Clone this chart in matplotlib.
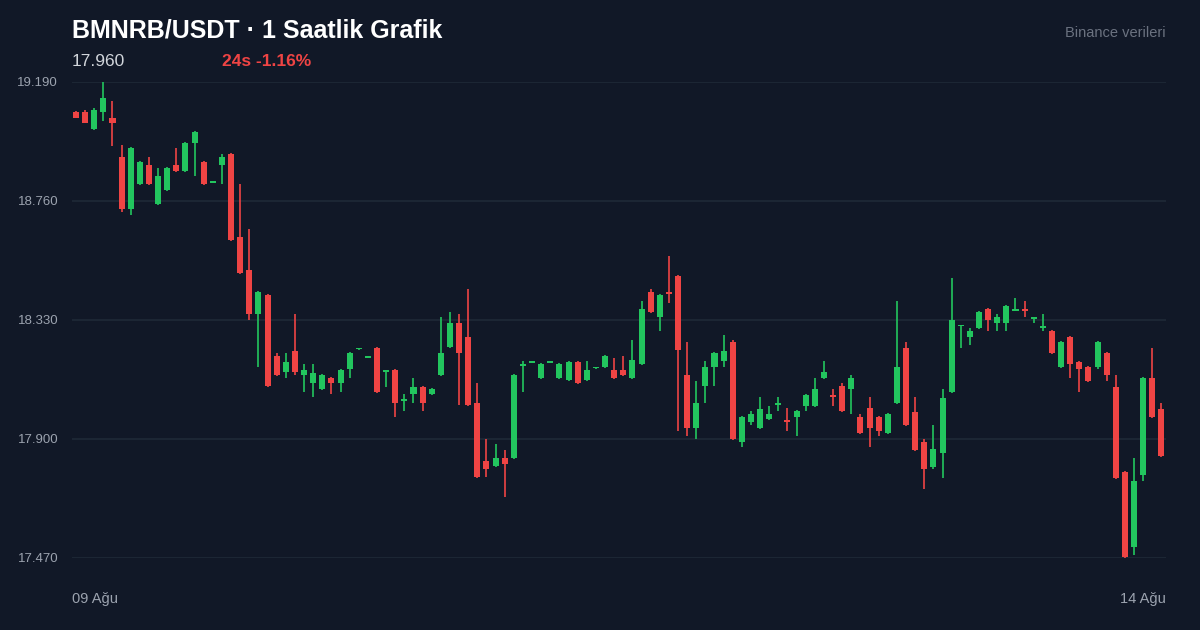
import matplotlib
matplotlib.use("Agg")
import matplotlib.pyplot as plt

plt.rcParams["font.family"] = ["Liberation Sans", "DejaVu Sans"]

# OHLC values (1h candles)
opens = [19.082, 19.082, 19.020, 19.082, 19.060, 18.919, 18.731, 18.821, 18.890, 18.749,
         18.800, 18.890, 18.868, 18.970, 18.901, 18.826, 18.890, 18.930, 18.630, 18.511,
         18.352, 18.420, 18.200, 18.142, 18.218, 18.131, 18.102, 18.081, 18.121, 18.102,
         18.153, 18.224, 18.194, 18.229, 18.142, 18.149, 18.037, 18.063, 18.088, 18.063,
         18.131, 18.233, 18.319, 18.269, 18.030, 17.821, 17.803, 17.832, 17.832, 18.164,
         18.176, 18.121, 18.176, 18.121, 18.113, 18.178, 18.113, 18.155, 18.160, 18.149,
         18.149, 18.121, 18.171, 18.431, 18.341, 18.431, 18.489, 18.131, 17.940, 18.092,
         18.160, 18.182, 18.251, 17.889, 17.962, 17.940, 17.972, 18.023, 17.969, 17.980,
         18.019, 18.019, 18.121, 18.059, 18.092, 18.081, 17.980, 18.012, 17.980, 17.922,
         18.030, 18.229, 17.998, 17.889, 17.799, 17.850, 18.070, 18.307, 18.269, 18.301,
         18.370, 18.319, 18.319, 18.364, 18.370, 18.335, 18.301, 18.290, 18.160, 18.269,
         18.178, 18.160, 18.160, 18.211, 18.088, 17.781, 17.510, 17.770, 18.121, 18.009]
highs = [19.085, 19.089, 19.096, 19.190, 19.121, 18.962, 18.955, 18.905, 18.919, 18.879,
         18.883, 18.952, 18.973, 19.013, 18.905, 18.831, 18.930, 18.933, 18.821, 18.659,
         18.435, 18.424, 18.211, 18.211, 18.352, 18.171, 18.171, 18.135, 18.124, 18.153,
         18.214, 18.229, 18.200, 18.233, 18.150, 18.153, 18.063, 18.121, 18.092, 18.084,
         18.341, 18.359, 18.352, 18.442, 18.102, 17.900, 17.882, 17.860, 18.135, 18.182,
         18.182, 18.175, 18.182, 18.175, 18.182, 18.182, 18.182, 18.161, 18.204, 18.193,
         18.200, 18.258, 18.399, 18.442, 18.424, 18.561, 18.493, 18.251, 18.110, 18.182,
         18.214, 18.276, 18.258, 17.984, 18.001, 18.052, 18.019, 18.052, 18.012, 18.005,
         18.063, 18.121, 18.182, 18.081, 18.102, 18.131, 17.990, 18.052, 17.984, 17.994,
         18.399, 18.251, 18.052, 17.900, 17.951, 18.081, 18.482, 18.311, 18.301, 18.363,
         18.373, 18.352, 18.384, 18.410, 18.399, 18.340, 18.352, 18.294, 18.255, 18.273,
         18.182, 18.164, 18.255, 18.215, 18.131, 17.785, 17.832, 18.124, 18.229, 18.030]
lows = [19.060, 19.042, 19.016, 19.049, 18.959, 18.720, 18.709, 18.818, 18.818, 18.745,
        18.796, 18.864, 18.864, 18.850, 18.818, 18.824, 18.821, 18.616, 18.497, 18.330,
        18.160, 18.088, 18.128, 18.121, 18.131, 18.070, 18.052, 18.077, 18.063, 18.070,
        18.121, 18.221, 18.191, 18.066, 18.088, 17.980, 18.001, 18.030, 18.001, 18.059,
        18.128, 18.229, 18.023, 18.020, 17.760, 17.763, 17.800, 17.691, 17.828, 18.070,
        18.174, 18.117, 18.174, 18.117, 18.110, 18.099, 18.110, 18.153, 18.156, 18.117,
        18.128, 18.117, 18.168, 18.355, 18.290, 18.392, 17.929, 17.911, 17.900, 18.030,
        18.092, 18.160, 17.897, 17.871, 17.951, 17.937, 17.969, 18.001, 17.929, 17.911,
        18.001, 18.016, 18.117, 18.019, 17.998, 17.990, 17.918, 17.871, 17.911, 17.918,
        18.027, 17.947, 17.856, 17.720, 17.792, 17.759, 18.066, 18.229, 18.240, 18.297,
        18.290, 18.290, 18.290, 18.362, 18.341, 18.319, 18.290, 18.207, 18.156, 18.121,
        18.070, 18.106, 18.153, 18.110, 17.756, 17.470, 17.481, 17.748, 17.976, 17.836]
closes = [19.060, 19.042, 19.089, 19.132, 19.042, 18.731, 18.952, 18.901, 18.821, 18.850,
          18.879, 18.868, 18.970, 19.009, 18.821, 18.830, 18.919, 18.619, 18.500, 18.352,
          18.431, 18.092, 18.131, 18.178, 18.142, 18.149, 18.139, 18.131, 18.102, 18.149,
          18.211, 18.227, 18.198, 18.070, 18.146, 18.030, 18.041, 18.088, 18.030, 18.081,
          18.211, 18.319, 18.211, 18.023, 17.763, 17.792, 17.832, 17.810, 18.131, 18.168,
          18.180, 18.171, 18.180, 18.171, 18.178, 18.102, 18.149, 18.159, 18.200, 18.121,
          18.131, 18.186, 18.370, 18.359, 18.420, 18.424, 18.222, 17.940, 18.030, 18.160,
          18.211, 18.218, 17.900, 17.980, 17.990, 18.009, 17.990, 18.027, 17.962, 18.001,
          18.059, 18.081, 18.142, 18.052, 18.001, 18.121, 17.922, 17.940, 17.929, 17.990,
          18.160, 17.951, 17.860, 17.792, 17.864, 18.048, 18.330, 18.309, 18.290, 18.359,
          18.330, 18.341, 18.381, 18.366, 18.363, 18.337, 18.309, 18.211, 18.251, 18.171,
          18.153, 18.110, 18.251, 18.131, 17.759, 17.474, 17.748, 18.121, 17.980, 17.839]

y_ticks = [17.470, 17.900, 18.330, 18.760, 19.190]
title = "BMNRB/USDT · 1 Saatlik Grafik"
last_price = "17.960"
change_text = "24s -1.16%"

BG = "#111827"
GREEN = "#22c55e"
RED = "#ef4444"
GRID = "#1f2937"
MUTED = "#9ca3af"

fig = plt.figure(figsize=(12, 6.3), dpi=100, facecolor=BG)
ax = fig.add_axes([72 / 1200, 1 - 558 / 630, 1094 / 1200, 476 / 630])
ax.set_facecolor(BG)

for i, (o, h, l, c) in enumerate(zip(opens, highs, lows, closes)):
    col = GREEN if c >= o else RED
    ax.vlines(i, l, h, color=col, linewidth=1.2, clip_on=False, zorder=3)
    body = max(abs(c - o), 0.006)
    ax.bar(i, body, bottom=min(o, c), width=0.66, color=col, clip_on=False, zorder=4)

ax.set_xlim(-0.44, 119.5)
ax.set_ylim(17.47, 19.19)
ax.set_yticks(y_ticks)
ax.set_yticklabels([f"{v:.3f}" for v in y_ticks])
ax.grid(axis="y", color=GRID, linewidth=1.2)
ax.set_axisbelow(True)
ax.set_xticks([])
ax.tick_params(axis="y", length=0, colors=MUTED, labelsize=9.5, pad=10)
for s in ax.spines.values():
    s.set_visible(False)

fig.text(72 / 1200, 1 - 30 / 630, title, color="white", fontsize=18, fontweight="bold", va="center")
fig.text(72 / 1200, 1 - 61 / 630, last_price, color="#d1d5db", fontsize=12.5, va="center")
fig.text(222 / 1200, 1 - 61 / 630, change_text, color=RED, fontsize=12.5, fontweight="bold", va="center")
fig.text(1166 / 1200, 1 - 33 / 630, "Binance verileri", color="#6b7280", fontsize=10.5, ha="right", va="center")
fig.text(72 / 1200, 1 - 599 / 630, "09 Ağu", color=MUTED, fontsize=10.5, va="center")
fig.text(1166 / 1200, 1 - 599 / 630, "14 Ağu", color=MUTED, fontsize=10.5, ha="right", va="center")

fig.savefig("out.png", dpi=100, facecolor=BG)
